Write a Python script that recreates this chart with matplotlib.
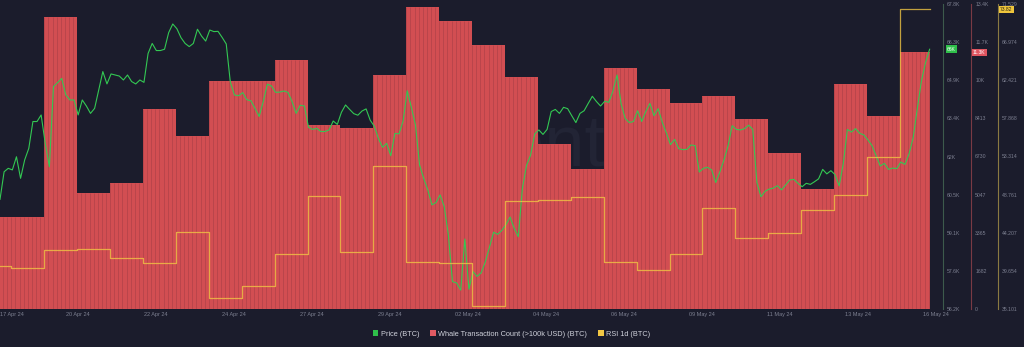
import numpy as np
import matplotlib
matplotlib.use("Agg")
import matplotlib.pyplot as plt
from matplotlib.patches import Patch
from matplotlib.path import Path

plt.rcParams["font.family"] = ["Liberation Sans", "DejaVu Sans"]

BG = "#1b1c2c"
RED = "#d24e52"
GREEN = "#33c853"
GREEN_ON_RED = "#95a96a"
YELLOW = "#f2c744"
TICK_COLOR = "#7d8091"

# time axis in days, day 0 = 19 Apr 2024 00:00; the window opens on 17 Apr afternoon
first_day = -1.346
last_day = 26.93

# one block per day (17 Apr .. 15 May)
day_index = np.arange(-2, 27)
whale_counts = [4073, 4073, 12899, 5132, 5574, 8826, 7635, 10075, 10060, 10989,
                8120, 8001, 10327, 13341, 12723, 11651, 10225, 7268, 6165, 10622,
                9709, 9104, 9400, 8372, 6871, 5309, 9930, 8517, 11330]
rsi_1d = [40.27, 39.96, 42.11, 42.30, 41.23, 40.63, 44.26, 36.45, 37.85, 41.63,
          48.63, 41.87, 52.18, 40.68, 40.56, 35.46, 48.04, 48.08, 48.51, 40.68,
          39.80, 41.71, 47.13, 43.58, 44.14, 46.89, 48.68, 53.26, 70.90]
rsi_last_label = "73.82"

# BTC price in thousand USD, one reading every 3 hours from the window start
price_step = 0.125
price_btc_k = [
    60.37, 61.42, 61.55, 61.49, 61.99, 61.17, 61.87, 62.31,
    63.33, 63.33, 63.58, 62.50, 61.61, 64.66, 64.81, 64.97,
    64.34, 64.15, 64.15, 63.58, 64.15, 63.92, 63.64, 63.83,
    64.53, 65.23, 64.76, 65.14, 65.10, 65.06, 64.91, 65.10,
    64.85, 64.76, 64.91, 64.82, 65.92, 66.30, 66.03, 66.03,
    66.08, 66.71, 67.04, 66.86, 66.52, 66.30, 66.18, 66.30,
    66.84, 66.58, 66.39, 66.81, 66.75, 66.76, 66.53, 66.28,
    64.82, 64.34, 64.31, 64.43, 64.16, 64.12, 63.83, 63.52,
    64.09, 64.75, 64.68, 64.44, 64.45, 64.49, 64.44, 64.09,
    63.64, 63.95, 63.92, 63.11, 63.03, 63.07, 62.95, 62.95,
    63.01, 63.35, 63.22, 63.68, 63.96, 63.79, 63.63, 63.57,
    63.73, 63.81, 63.38, 63.15, 62.68, 62.35, 62.50, 62.03,
    62.88, 62.86, 63.35, 64.50, 63.87, 63.20, 61.68, 61.17,
    60.73, 60.16, 60.25, 60.54, 60.09, 59.02, 57.24, 57.19,
    56.92, 58.86, 56.95, 57.62, 57.44, 57.58, 58.00, 58.55,
    59.12, 59.04, 59.19, 59.41, 59.70, 59.27, 58.95, 60.79,
    61.66, 62.06, 62.86, 63.01, 62.84, 63.03, 63.71, 63.79,
    63.64, 63.87, 63.82, 63.55, 63.29, 63.64, 63.74, 64.02,
    64.29, 64.09, 63.92, 64.10, 64.06, 64.48, 65.10, 64.00,
    63.44, 63.29, 63.33, 63.74, 63.33, 63.71, 64.02, 63.55,
    63.82, 63.30, 62.89, 62.45, 62.65, 62.30, 62.26, 62.27,
    62.44, 62.41, 61.41, 61.55, 61.59, 61.49, 61.01, 61.41,
    61.87, 62.41, 63.17, 63.03, 63.01, 63.06, 63.19, 63.03,
    61.01, 60.47, 60.68, 60.76, 60.80, 60.89, 60.73, 60.92,
    61.11, 61.13, 60.98, 60.85, 60.98, 60.94, 61.04, 61.15,
    61.51, 61.34, 61.46, 61.31, 60.88, 61.72, 63.03, 62.93,
    63.06, 62.88, 62.82, 62.63, 62.41, 62.02, 61.64, 61.74,
    61.51, 61.56, 61.54, 61.79, 61.70, 62.10, 62.72, 63.82,
    64.87, 65.57, 66.08,
]

x_labels = ["17 Apr 24", "20 Apr 24", "22 Apr 24", "24 Apr 24", "27 Apr 24",
            "29 Apr 24", "02 May 24", "04 May 24", "06 May 24", "09 May 24",
            "11 May 24", "13 May 24", "16 May 24"]
price_ticks = np.linspace(56.2, 67.8, 9)
price_tick_labels = ["56.2K", "57.6K", "59.1K", "60.5K", "62K", "63.4K", "64.9K", "66.3K", "67.8K"]
whale_ticks = np.linspace(0, 13460, 9)
whale_tick_labels = ["0", "1682", "3365", "5047", "6730", "8413", "10K", "11.7K", "13.4K"]
rsi_ticks = np.linspace(35.101, 71.529, 9)
rsi_tick_labels = ["35.101", "39.654", "44.207", "48.761", "53.314", "57.868", "62.421", "66.974", "71.529"]

legend_labels = ["Price (BTC)", "Whale Transaction Count (>100k USD) (BTC)", "RSI 1d (BTC)"]

# --- figure ---
fig = plt.figure(figsize=(10.24, 3.47), dpi=100, facecolor=BG)
ax = fig.add_axes([0, 38 / 347, 943 / 1024, 305 / 347])
ax.set_facecolor(BG)

# faint watermark behind the bars
ax.text(0.475, 0.53, "santiment", transform=ax.transAxes, ha="center", va="center",
        fontsize=52, color="#222435", zorder=0.5)

# whale bars, daily blocks
lefts = np.maximum(day_index, first_day)
rights = np.minimum(day_index + 1, last_day)
bars = ax.bar(lefts, whale_counts, width=rights - lefts, align="edge", color=RED,
              linewidth=0, zorder=2)

# thin darker stripes inside the blocks (3 hour grid)
stripe_t = np.arange(-11, 216) * 0.125
stripe_t = stripe_t[stripe_t > first_day]
stripe_h = np.array(whale_counts)[np.floor(stripe_t).astype(int) + 2]
ax.vlines(stripe_t, 0, stripe_h, colors="#ad4048", linewidth=0.45, zorder=2.5)

ax.set_ylim(0, 13460)
ax.set_xlim(first_day, 27.31)

# price line: bright on the background, muted where it runs over the bars
ax_p = ax.twinx()
price_t = first_day + np.arange(len(price_btc_k)) * price_step
ax_p.plot(price_t, price_btc_k, color=GREEN, linewidth=0.8)
over_bars = ax_p.plot(price_t, price_btc_k, color=GREEN_ON_RED, linewidth=0.8)[0]
bar_area = Path.make_compound_path(*[Path(b.get_verts()) for b in bars])
ax_p.set_ylim(56.2, 67.8)

# RSI step line
ax_r = ax.twinx()
ax_r.step(np.append(lefts, last_day), np.append(rsi_1d, rsi_1d[-1]), where="post",
          color=YELLOW, linewidth=0.9, alpha=0.78)
ax_r.set_ylim(35.101, 71.529)

# axes styling
for a in (ax, ax_p, ax_r):
    for s in ("top", "left", "bottom"):
        a.spines[s].set_visible(False)
    a.spines["right"].set_linewidth(0.8)
    a.tick_params(axis="y", length=0, pad=3, labelsize=3.7, labelcolor=TICK_COLOR)

ax.yaxis.tick_right()
ax.spines["right"].set_visible(True)
ax.spines["right"].set_position(("outward", 28 * 0.72))
ax.spines["right"].set_color("#7a3a44")
ax_p.spines["right"].set_color("#3d5a4c")
ax_r.spines["right"].set_position(("outward", 55 * 0.72))
ax_r.spines["right"].set_color("#8a7a42")

ax.set_yticks(whale_ticks, whale_tick_labels)
ax_p.set_yticks(price_ticks, price_tick_labels)
ax_r.set_yticks(rsi_ticks, rsi_tick_labels)

x_pos = first_day + np.arange(len(x_labels)) * 2.370
ax.set_xticks(x_pos, x_labels)
ax.tick_params(axis="x", length=0, pad=2.5, labelsize=4, labelcolor=TICK_COLOR)
ax.get_xticklabels()[0].set_ha("left")

# last value tags on the axes
tag_style = dict(xycoords=("axes fraction", "data"), textcoords="offset pixels",
                 ha="left", va="center", fontsize=3.6, annotation_clip=False)
ax_p.annotate(f"{round(price_btc_k[-1])}K", xy=(1, price_btc_k[-1]), xytext=(4, 0),
              color="white", bbox=dict(boxstyle="square,pad=0.25", fc="#2fbf4a", ec="none"),
              **tag_style)
ax.annotate(f"{whale_counts[-1] / 1000:.1f}K", xy=(1, whale_counts[-1]), xytext=(30, 0),
            color="white", bbox=dict(boxstyle="square,pad=0.25", fc="#e05560", ec="none"),
            **tag_style)
ax_r.annotate(rsi_last_label, xy=(1, rsi_1d[-1]), xytext=(57, 0),
              color="#2a2410", bbox=dict(boxstyle="square,pad=0.25", fc="#efc53c", ec="none"),
              **tag_style)

# legend
handles = [Patch(facecolor=c, edgecolor="none") for c in ("#2fbf4a", "#e05a63", "#f2c744")]
fig.legend(handles, legend_labels, loc="center", bbox_to_anchor=(0.4995, 1 - 334 / 347),
           ncol=3, frameon=False, fontsize=5.3, handlelength=0.75, handleheight=0.75,
           handletextpad=0.35, columnspacing=1.5, labelcolor="#cfd1db")

# bar outlines are in whale data units, so the clip follows the whale axis
over_bars.set_clip_path(bar_area, ax.transData)

fig.savefig("out.png", dpi=100, facecolor=BG)
